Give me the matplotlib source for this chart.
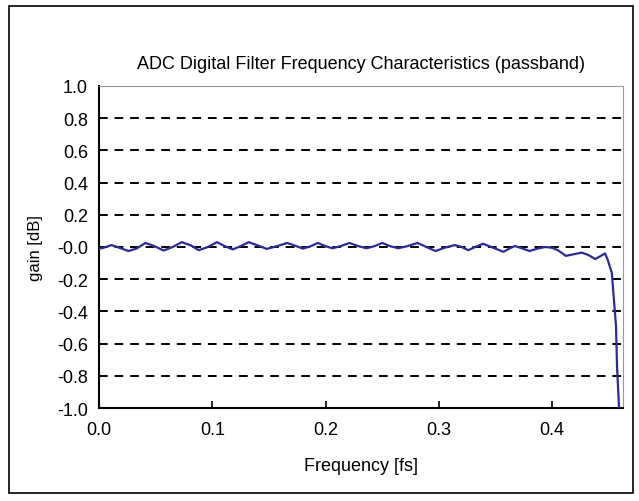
import matplotlib
matplotlib.use('Agg')
import matplotlib.pyplot as plt
from matplotlib.patches import Rectangle

plt.rcParams['font.family'] = ['Liberation Sans', 'DejaVu Sans']

# passband response
freq = [0.000, 0.004, 0.011, 0.018, 0.026, 0.033, 0.041, 0.049, 0.057, 0.065,
        0.073, 0.081, 0.088, 0.096, 0.104, 0.111, 0.118, 0.125, 0.132, 0.140,
        0.148, 0.157, 0.166, 0.173, 0.180, 0.187, 0.193, 0.200, 0.206, 0.213,
        0.221, 0.229, 0.236, 0.243, 0.250, 0.257, 0.264, 0.272, 0.281, 0.289,
        0.297, 0.305, 0.314, 0.320, 0.326, 0.332, 0.339, 0.348, 0.357, 0.362,
        0.367, 0.374, 0.380, 0.387, 0.394, 0.400, 0.405, 0.412, 0.419, 0.426,
        0.432, 0.438, 0.443, 0.4466, 0.449, 0.4526, 0.4545, 0.4563, 0.4572, 0.459]
gain = [-0.010, -0.005, 0.012, -0.005, -0.025, -0.010, 0.025, 0.005, -0.022, 0.000,
        0.030, 0.010, -0.020, 0.000, 0.030, 0.005, -0.015, 0.005, 0.030, 0.010,
        -0.012, 0.005, 0.025, 0.008, -0.010, 0.005, 0.025, 0.005, -0.008, 0.005,
        0.025, 0.005, -0.008, 0.005, 0.025, 0.005, -0.008, 0.005, 0.025, 0.000,
        -0.025, -0.005, 0.012, 0.000, -0.020, 0.000, 0.020, -0.005, -0.030, -0.010,
        0.006, -0.010, -0.025, -0.010, 0.000, -0.005, -0.020, -0.055, -0.045, -0.035,
        -0.050, -0.075, -0.055, -0.040, -0.080, -0.160, -0.330, -0.490, -0.740, -1.000]

xticks = [0.0, 0.1, 0.2, 0.3, 0.4]
xtick_labels = ['0.0', '0.1', '0.2', '0.3', '0.4']
yticks = [1.0, 0.8, 0.6, 0.4, 0.2, 0.0, -0.2, -0.4, -0.6, -0.8, -1.0]
ytick_labels = ['1.0', '0.8', '0.6', '0.4', '0.2', '-0.0', '-0.2', '-0.4', '-0.6', '-0.8', '-1.0']
grid_levels = [0.8, 0.6, 0.4, 0.2, 0.0, -0.2, -0.4, -0.6, -0.8]

fig = plt.figure(figsize=(6.39, 5.02), dpi=100)
fig.patches.append(Rectangle((9 / 639, 8 / 502), 624 / 639, 487 / 502,
                             transform=fig.transFigure, fill=False,
                             edgecolor='black', linewidth=1.2))

ax = fig.add_axes([0.155, 0.185, 0.82, 0.642])
for lev in grid_levels:
    ax.axhline(lev, color='black', linewidth=1.4, linestyle=(0, (4.5, 3.5)), zorder=1)

ax.plot(freq, gain, color='#2b2b96', linewidth=1.6, zorder=3)

ax.set_xlim(0, 0.4625)
ax.set_ylim(-1.0, 1.0)
ax.set_xticks(xticks)
ax.set_xticklabels(xtick_labels)
ax.set_yticks(yticks)
ax.set_yticklabels(ytick_labels)
ax.tick_params(axis='x', direction='in', length=5, width=1.2, labelsize=13, pad=9)
ax.tick_params(axis='y', length=0, labelsize=13, pad=8)

ax.spines['left'].set_linewidth(1.5)
ax.spines['bottom'].set_linewidth(1.5)
ax.spines['top'].set_color('#999999')
ax.spines['right'].set_color('#999999')

ax.set_xlabel('Frequency [fs]', fontsize=13, labelpad=14)
ax.set_ylabel('gain [dB]', fontsize=12, labelpad=10)
ax.set_title('ADC Digital Filter Frequency Characteristics (passband)', fontsize=13, pad=13)

fig.savefig('out.png', dpi=100)
